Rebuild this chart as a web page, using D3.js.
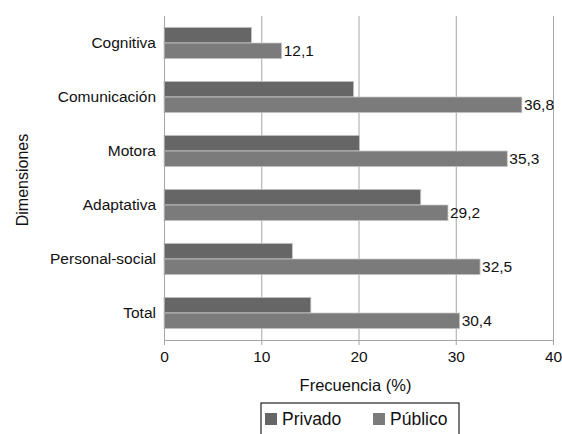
<!DOCTYPE html>
<html>
<head>
  <meta charset="utf-8">
  <script src="https://d3js.org/d3.v7.min.js"></script>
  <style>
    body { margin: 0; font-family: 'Liberation Sans', Arial, Helvetica, sans-serif; background: #fff; }
    .grid line { stroke: #a6a6a6; }
    .grid .domain { display: none; }
  </style>
</head>
<body>
  <svg id="chart" width="562" height="434"></svg>
  <script>
    // data
    const categories = ["Cognitiva", "Comunicación", "Motora", "Adaptativa", "Personal-social", "Total"];
    const series = ["Privado", "Público"];
    const privado = [9.0, 19.5, 20.1, 26.4, 13.2, 15.1];
    const publico = [12.1, 36.8, 35.3, 29.2, 32.5, 30.4];
    const xTicks = [0, 10, 20, 30, 40];
    const colors = ["#666666", "#7b7b7b"];

    const svg = d3.select("#chart");
    const margin = { top: 16, right: 9, bottom: 94, left: 164 };
    const width = 562 - margin.left - margin.right;
    const height = 434 - margin.top - margin.bottom;
    const fontFam = "'Liberation Sans', Arial, sans-serif";

    const g = svg.append("g").attr("transform", `translate(${margin.left},${margin.top})`);

    const x = d3.scaleLinear().domain([0, 40]).range([0, width]);
    const y = d3.scaleBand().domain(categories).range([0, height]).paddingInner(0.42).paddingOuter(0.21);
    const ySub = d3.scaleBand().domain(series).range([0, y.bandwidth()]);

    // vertical gridlines
    g.append("g").attr("class", "grid")
      .call(d3.axisBottom(x).tickValues(xTicks).tickSize(height).tickFormat(""))
      .call(s => s.selectAll("line").attr("stroke", "#a6a6a6"));

    // bars
    const rows = categories.map((c, i) => ({ cat: c, vals: [privado[i], publico[i]] }));
    const grp = g.selectAll("g.row").data(rows).join("g").attr("class", "row")
      .attr("transform", d => `translate(0,${y(d.cat)})`);
    grp.selectAll("rect").data(d => d.vals.map((v, j) => ({ s: series[j], v, j })))
      .join("rect")
      .attr("x", x(0))
      .attr("y", d => ySub(d.s))
      .attr("width", d => x(d.v) - x(0))
      .attr("height", ySub.bandwidth())
      .attr("fill", d => colors[d.j])
      .attr("stroke", "#c8c8c8")
      .attr("stroke-width", 0.8);

    // value labels on público
    grp.append("text")
      .attr("x", d => x(d.vals[1]) + 2)
      .attr("y", ySub("Público") + ySub.bandwidth() / 2)
      .attr("dy", "0.35em")
      .attr("font-size", 15.5)
      .attr("font-family", fontFam)
      .attr("fill", "#111")
      .text(d => d3.format(".1f")(d.vals[1]).replace(".", ","));

    // x axis
    const xAxis = g.append("g").attr("transform", `translate(0,${height})`)
      .call(d3.axisBottom(x).tickValues(xTicks).tickSize(5).tickPadding(6));
    xAxis.select(".domain").attr("stroke", "#a6a6a6");
    xAxis.selectAll("line").attr("stroke", "#a6a6a6");
    xAxis.selectAll("text").attr("font-size", 15.5).attr("fill", "#111").attr("font-family", fontFam);

    // y axis
    const yAxis = g.append("g")
      .call(d3.axisLeft(y).tickSize(0).tickPadding(8));
    yAxis.select(".domain").attr("stroke", "#a6a6a6");
    yAxis.selectAll("text").attr("font-size", 15.5).attr("fill", "#111").attr("font-family", fontFam);

    // axis titles
    svg.append("text")
      .attr("x", margin.left + width / 2 - 3)
      .attr("y", 391)
      .attr("text-anchor", "middle")
      .attr("font-size", 16.5)
      .attr("font-family", fontFam)
      .attr("fill", "#111")
      .text("Frecuencia (%)");
    svg.append("text")
      .attr("transform", "translate(28,180) rotate(-90)")
      .attr("text-anchor", "middle")
      .attr("font-size", 16)
      .attr("font-family", fontFam)
      .attr("fill", "#111")
      .text("Dimensiones");

    // legend
    const leg = svg.append("g").attr("transform", "translate(261,403)");
    leg.append("rect").attr("width", 198).attr("height", 34)
      .attr("fill", "none").attr("stroke", "#222").attr("stroke-width", 1.2);
    const items = leg.selectAll("g.item").data(series).join("g").attr("class", "item")
      .attr("transform", (d, i) => `translate(${[4, 112][i]},0)`);
    items.append("rect").attr("y", 10).attr("width", 12).attr("height", 12)
      .attr("fill", (d, i) => colors[i]);
    items.append("text").attr("x", 17).attr("y", 16).attr("dy", "0.35em")
      .attr("font-size", 17.5).attr("font-family", fontFam).attr("fill", "#111").text(d => d);
  </script>
</body>
</html>
